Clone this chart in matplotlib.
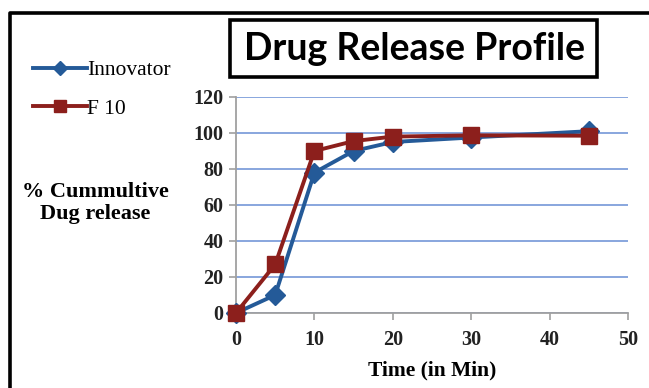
import matplotlib
matplotlib.use('Agg')
from matplotlib import pyplot as plt
from matplotlib.patches import Rectangle
from matplotlib.lines import Line2D

time_min = [0, 5, 10, 15, 20, 30, 45]
innovator = [0, 10, 78, 90, 95, 97.5, 101]
f10 = [0, 27, 90, 95.5, 98, 98.7, 98.5]

x_ticks = [0, 10, 20, 30, 40, 50]
y_ticks = [0, 20, 40, 60, 80, 100, 120]

BLUE = "#245A98"
RED = "#8C1F1C"
GRID = "#7F9FDB"
SERIF = "Liberation Serif"


def plot_release_profile():

    fig = plt.figure(figsize=(6.49, 3.88), dpi=100)
    W, H = 649.0, 388.0

    ax = fig.add_axes([236 / W, 1 - 313 / H, (628 - 236) / W, (313 - 97) / H])
    ax.plot(time_min, innovator, color=BLUE, lw=2.8, marker="D", ms=10,
            label="Innovator", zorder=3, clip_on=False)
    ax.plot(time_min, f10, color=RED, lw=2.8, marker="s", ms=12,
            label="F 10", zorder=4, clip_on=False)

    ax.set_xlim(0, 50)
    ax.set_ylim(0, 120)
    ax.set_xticks(x_ticks)
    ax.set_yticks(y_ticks)
    ax.grid(axis="y", color=GRID, lw=1.3)
    ax.set_axisbelow(True)
    for s in ["top", "right"]:
        ax.spines[s].set_visible(False)
    for s in ["left", "bottom"]:
        ax.spines[s].set_color("#A0A0A0")
        ax.spines[s].set_linewidth(1.3)
    ax.tick_params(colors="#A0A0A0", length=5, width=1.2, labelcolor="#222222",
                   labelsize=14.5)
    ax.tick_params(axis="x", pad=7)
    ax.tick_params(axis="y", pad=4)
    for lbl in ax.get_xticklabels() + ax.get_yticklabels():
        lbl.set_family(SERIF)
        lbl.set_fontweight("bold")

    ax.set_xlabel("Time (in Min)", family=SERIF, fontweight="bold", fontsize=15.5,
                  labelpad=8)
    fig.text(95 / W, 1 - 203 / H, "% Cummultive\nDug release", family=SERIF,
             fontweight="bold", fontsize=16, ha="center", va="center",
             linespacing=1.1)

    # title in a box
    fig.add_artist(Rectangle((230 / W, 1 - 77 / H), (597 - 230) / W, 57 / H,
                             transform=fig.transFigure, fill=False, ec="black", lw=2.6))
    fig.text(415 / W, 1 - 49 / H, "Drug Release Profile", family="Lato",
             fontweight="bold", fontsize=27, ha="center", va="center")

    # outer frame
    fig.add_artist(Line2D([10 / W, 10 / W, 1.0], [0.0, 1 - 13 / H, 1 - 13 / H],
                          transform=fig.transFigure, color="black", lw=2.6))

    fig.legend(loc="upper left", bbox_to_anchor=(14 / W, 1 - 41 / H),
               frameon=False, handlelength=2.5, handletextpad=0.0,
               labelspacing=0.85, markerscale=0.7,
               prop={"family": SERIF, "size": 15.5})

    fig.savefig("out.png", dpi=100)


if __name__ == "__main__":
    plot_release_profile()
